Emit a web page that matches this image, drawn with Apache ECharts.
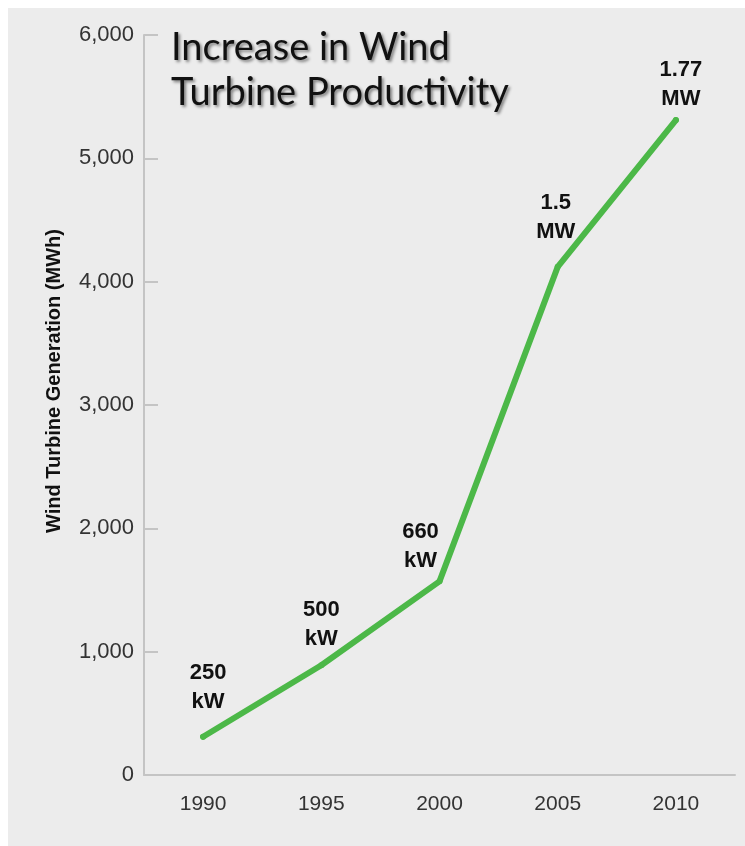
<!DOCTYPE html>
<html>
<head>
<meta charset="utf-8">
<script src="https://cdn.jsdelivr.net/npm/echarts@6/dist/echarts.min.js"></script>
<style>
  html, body { margin: 0; padding: 0; background: #ffffff; }
  #chart { position: absolute; left: 8px; top: 8px; width: 737px; height: 838px; }
</style>
</head>
<body>
<div id="chart"></div>
<script>
// Years on the category axis
const years = ['1990', '1995', '2000', '2005', '2010'];
// Annual generation per turbine, MWh
const generation = [310, 890, 1570, 4120, 5310];
// Rated turbine capacity shown beside each point
const capacities = ['250\nkW', '500\nkW', '660\nkW', '1.5\nMW', '1.77\nMW'];
// Value axis ticks
const yMin = 0;
const yMax = 6000;
const yStep = 1000;

// Nudges for the capacity labels so they sit clear of the line
const labelNudges = [[5, -12], [0, -4], [-19, 2], [-2, -12], [5, 1]];

const chart = echarts.init(document.getElementById('chart'), null, { renderer: 'canvas' });

const axisGray = '#c4c4c4';
const lineGreen = '#4cb848';
const tickFont = 'Liberation Sans, Arial, Helvetica, sans-serif';

chart.setOption({
  backgroundColor: '#ececec',
  animation: false,
  title: {
    text: 'Increase in Wind\nTurbine Productivity',
    left: 158,
    top: 12,
    textStyle: {
      fontFamily: 'Lato, "Open Sans", sans-serif',
      fontWeight: 'normal',
      fontSize: 38,
      lineHeight: 45,
      color: '#111111',
      textShadowColor: 'rgba(0,0,0,0.45)',
      textShadowBlur: 3,
      textShadowOffsetX: 2,
      textShadowOffsetY: 2
    }
  },
  grid: { left: 136, right: 10, top: 27, bottom: 71, containLabel: false },
  xAxis: {
    type: 'category',
    data: years,
    boundaryGap: true,
    axisLine: { lineStyle: { color: axisGray, width: 2 } },
    axisTick: { inside: true, length: 18, lineStyle: { color: axisGray, width: 2 } },
    axisLabel: { margin: 19, fontSize: 21, fontFamily: tickFont, color: '#333333' },
    splitLine: { show: false }
  },
  yAxis: {
    type: 'value',
    min: yMin,
    max: yMax,
    interval: yStep,
    name: 'Wind Turbine Generation (MWh)',
    nameLocation: 'middle',
    nameGap: 80,
    nameTextStyle: {
      fontFamily: tickFont,
      fontWeight: 'bold',
      fontSize: 20,
      color: '#111111',
      padding: [0, 0, 0, 48]
    },
    axisLine: { show: true, lineStyle: { color: axisGray, width: 2 } },
    axisTick: { show: true, inside: true, length: 14, lineStyle: { color: axisGray, width: 2 } },
    axisLabel: {
      margin: 10,
      fontSize: 22,
      fontFamily: tickFont,
      color: '#333333',
      padding: [10, 0, 0, 0],
      formatter: v => v.toLocaleString('en-US')
    },
    splitLine: { show: false }
  },
  series: [{
    type: 'line',
    data: generation.map((v, i) => ({ value: v, label: { offset: labelNudges[i] } })),
    showSymbol: true,
    symbol: 'circle',
    symbolSize: 6,
    itemStyle: { color: lineGreen, borderWidth: 0 },
    lineStyle: { color: lineGreen, width: 6, cap: 'round', join: 'round' },
    label: {
      show: true,
      position: 'top',
      distance: 5,
      formatter: p => capacities[p.dataIndex],
      fontFamily: tickFont,
      fontWeight: 'bold',
      fontSize: 22,
      lineHeight: 29,
      color: '#111111',
      align: 'center'
    }
  }]
});
</script>
</body>
</html>
